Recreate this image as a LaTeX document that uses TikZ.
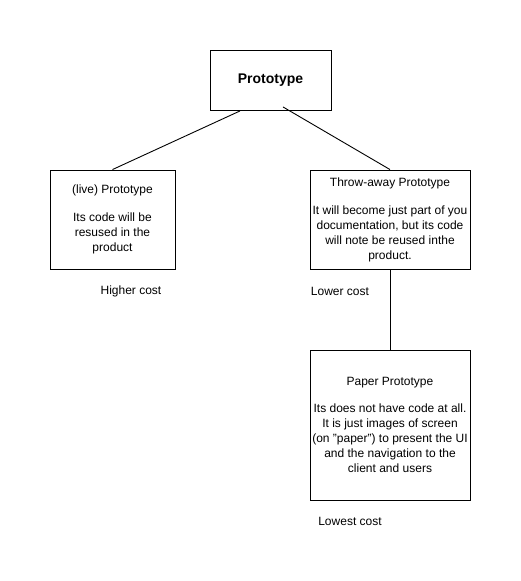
\documentclass[tikz,border=0pt]{standalone}
\usepackage{fontspec}
\setmainfont{Liberation Sans}
\usepackage{tikz}
\usetikzlibrary{positioning,calc}

\tikzset{
  box/.style = {draw, shape = rectangle, line width = 0.9pt, align = center, inner sep = 0pt,
                font = \fontsize{12}{15}\selectfont},
  cost/.style = {font = \fontsize{12}{15}\selectfont, inner sep = 0pt}
}

\begin{document}
\begin{tikzpicture}[x = 1pt, y = -1pt]
\useasboundingbox (0,0) rectangle (521,581);
\node[box, minimum width = 121pt, minimum height = 60pt, font = \fontsize{14}{17}\selectfont\bfseries] (proto) at (270.5,80.5) {Prototype};
\node[box, minimum width = 125pt, minimum height = 99pt] (live) at (112.5,219.5) {(live) Prototype\\[13pt]Its code will be\\resused in the\\product};
\node[box, minimum width = 160pt, minimum height = 99pt] (throw) at (390,219.5) {Throw-away Prototype\\[13pt]It will become just part of you\\documentation, but its code\\will note be reused inthe\\product.};
\node[box, minimum width = 160pt, minimum height = 150pt] (paper) at (390,425) {Paper Prototype\\[12pt]Its does not have code at all.\\It is just images of screen\\(on "paper") to present the UI\\and the navigation to the\\client and users};
% costs
\node[cost] (highcost) at (131,291) {Higher cost};
\node[cost] (lowcost) at (340,291) {Lower cost};
\node[cost] (lowestcost) at (350,521) {Lowest cost};
% links
\draw[line width = 0.9pt] ([xshift = -30.5pt]proto.south) -- (live.north);
\draw[line width = 0.9pt] ([xshift = 12.5pt, yshift = 4pt]proto.south) -- (throw.north);
\draw[line width = 0.9pt] (throw.south) -- (paper.north);
\end{tikzpicture}
\end{document}
